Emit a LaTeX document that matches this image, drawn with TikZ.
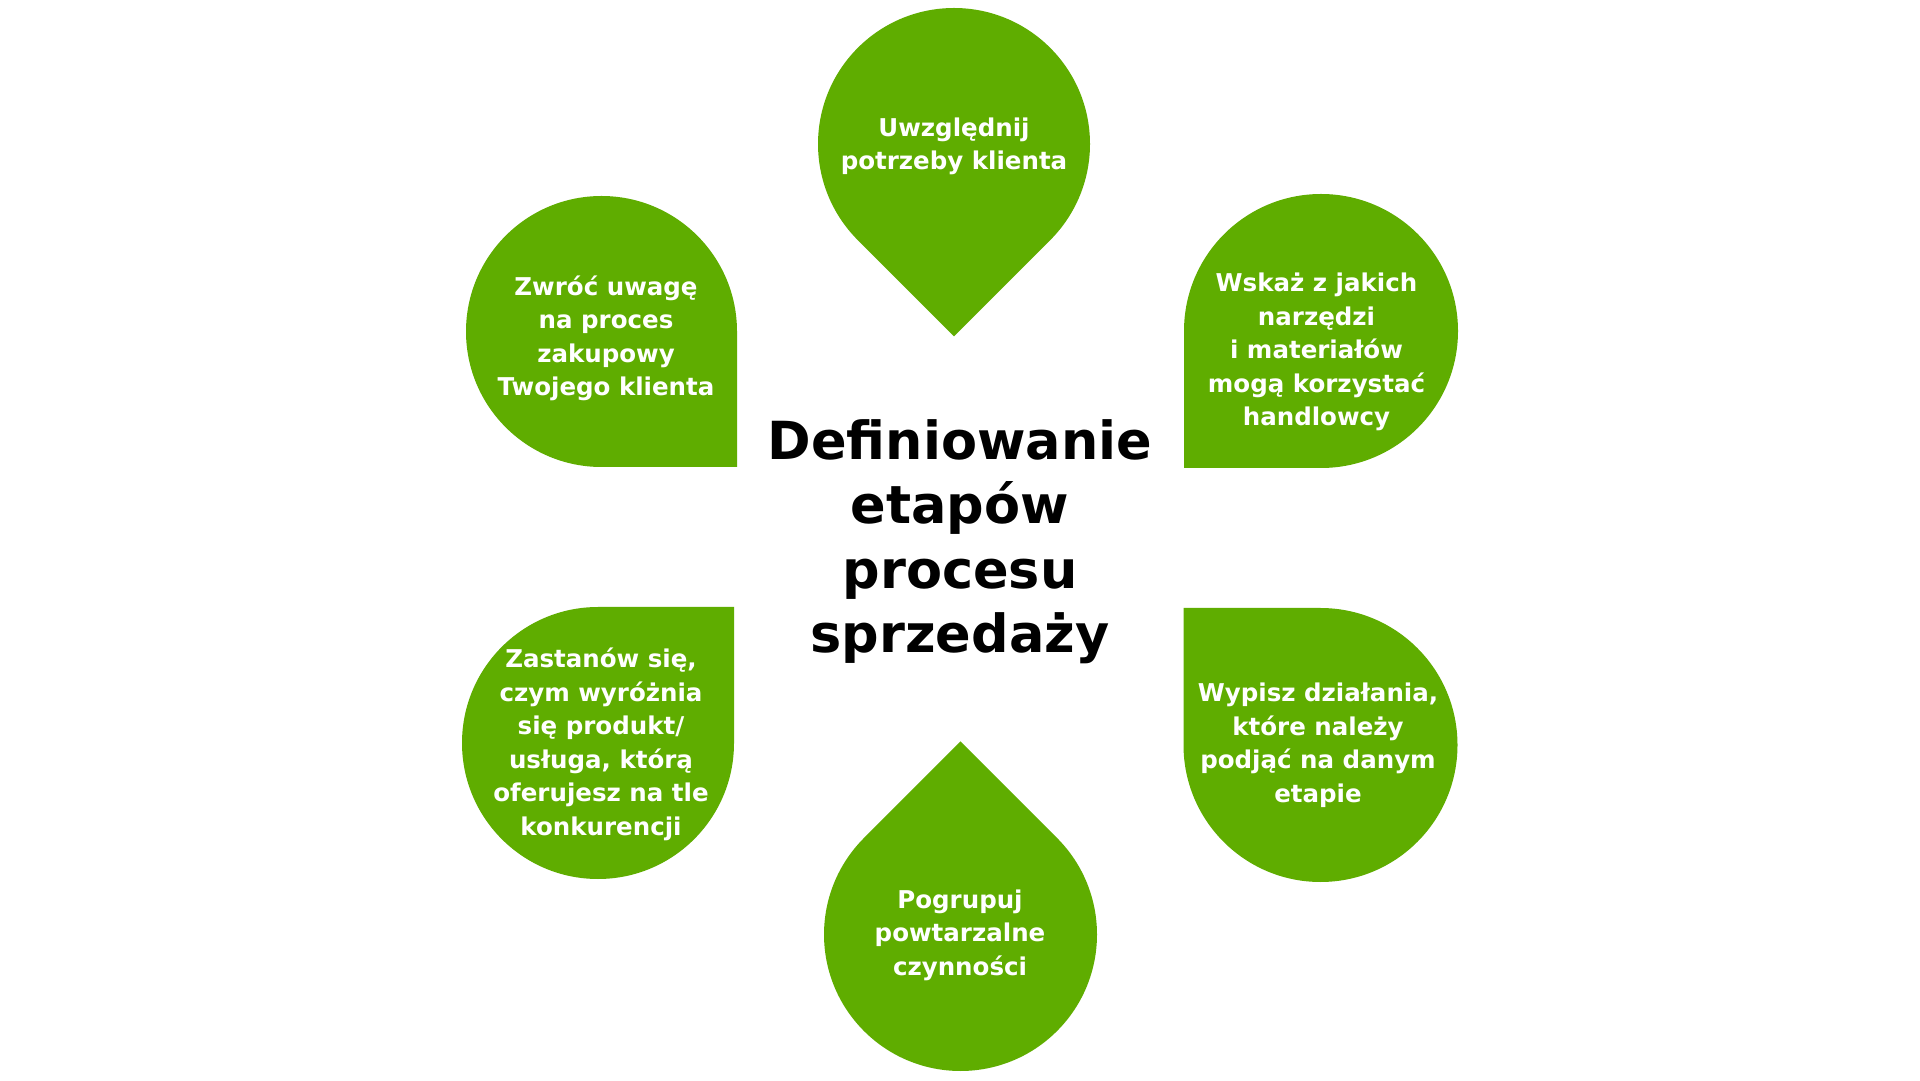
\documentclass[tikz,border=0pt]{standalone}
\usepackage{fontspec}
\setmainfont{DejaVu Sans}
\usetikzlibrary{calc}
\definecolor{leafgreen}{RGB}{95,173,0}
\newcommand\leafshape[4]{%
  \fill[leaf] ($(#1,#2)+({#4+45}:#3)$) -- ($(#1,#2)+(#4:{#3*1.41421})$) -- ($(#1,#2)+({#4-45}:#3)$)
    arc[start angle={#4-45}, delta angle=-270, radius=#3] -- cycle;}
\tikzset{
  leaf/.style={fill=leafgreen},
  leaftext/.style={text=white, align=center, font=\fontsize{24.5}{33.5}\selectfont\bfseries, inner sep=0pt},
  titletext/.style={text=black, align=center, font=\fontsize{52.5}{64.5}\selectfont\bfseries, inner sep=0pt}
}
\begin{document}
\begin{tikzpicture}[x=1pt,y=1pt]
\useasboundingbox (0,0) rectangle (1920,1080);
\fill[white] (0,0) rectangle (1920,1080);
% shapes
\leafshape{954}{936}{136}{-90}
\leafshape{601.5}{748.5}{135.5}{-45}
\leafshape{1321}{749}{137}{225}
\leafshape{598}{337}{136}{45}
\leafshape{1320.5}{335}{137}{135}
\leafshape{960.5}{145.5}{136.5}{90}
% texts
\node[leaftext] (top) at (954,933.9) {Uwzględnij\\potrzeby klienta};
\node[leaftext] (ul) at (606,741.4) {Zwróć uwagę\\na proces\\zakupowy\\Twojego klienta};
\node[leaftext] (ur) at (1316.5,728.1) {Wskaż z jakich\\narzędzi\\i materiałów\\mogą korzystać\\handlowcy};
\node[leaftext] (ll) at (601,335.9) {Zastanów się,\\czym wyróżnia\\się produkt/\\usługa, którą\\oferujesz na tle\\konkurencji};
\node[leaftext] (lr) at (1318,334.9) {Wypisz działania,\\które należy\\podjąć na danym\\etapie};
\node[leaftext] (bot) at (960,145) {Pogrupuj\\powtarzalne\\czynności};
\node[titletext] (title) at (960,538.5) {Definiowanie\\etapów\\procesu\\sprzedaży};
\end{tikzpicture}
\end{document}
